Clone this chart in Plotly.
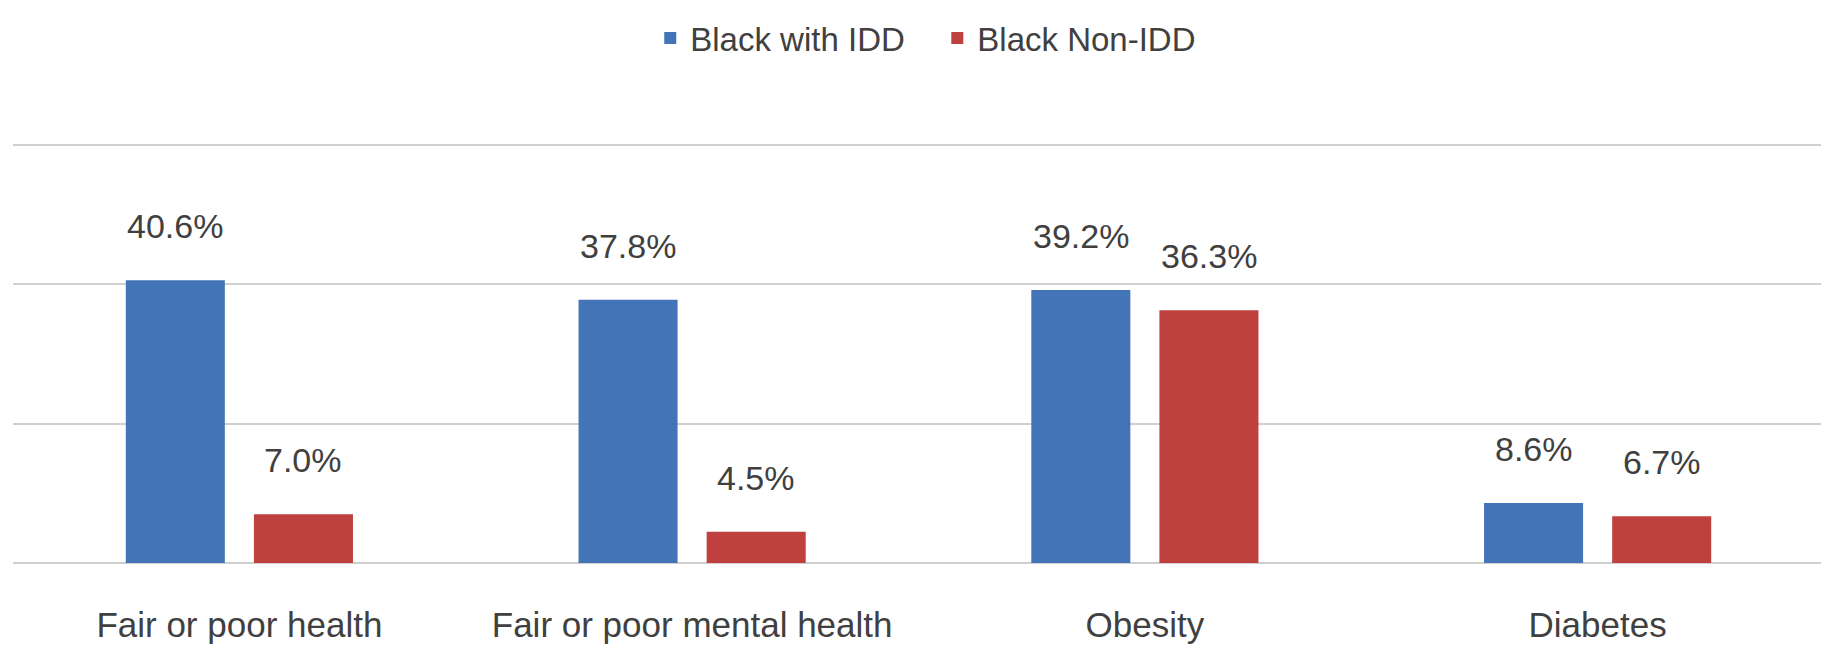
import plotly.graph_objects as go

categories = ["Fair or poor health", "Fair or poor mental health", "Obesity", "Diabetes"]
idd_values = [40.6, 37.8, 39.2, 8.6]
non_idd_values = [7.0, 4.5, 36.3, 6.7]
series_names = ["Black with IDD", "Black Non-IDD"]

BLUE = "#4374B7"
RED = "#BE413F"
TEXT = "#404040"
GRID = "#CFCFCF"
FONT = "Liberation Sans, Arial, sans-serif"
NBSP = "\u00a0"

fig = go.Figure()
fig.add_trace(go.Bar(x=categories, y=idd_values, name=series_names[0] + NBSP * 3,
                     marker=dict(color=BLUE, line=dict(width=0))))
fig.add_trace(go.Bar(x=categories, y=non_idd_values, name=series_names[1],
                     marker=dict(color=RED, line=dict(width=0))))

annotations = []
for vals, shift in ((idd_values, -64), (non_idd_values, 64)):
    for c, v in zip(categories, vals):
        annotations.append(dict(x=c, y=v, xref="x", yref="y", text=f"{v:.1f}%",
                                showarrow=False, xshift=shift, yshift=33,
                                yanchor="bottom",
                                font=dict(family=FONT, size=34, color=TEXT)))

fig.update_layout(
    width=1821, height=642,
    margin=dict(l=5, r=5, t=135, b=87),
    paper_bgcolor="white", plot_bgcolor="white",
    barmode="group", bargap=0.434, bargroupgap=0.227,
    font=dict(family=FONT, size=35, color=TEXT),
    legend=dict(orientation="h", x=0.504, xanchor="center", xref="paper",
                y=0.953, yanchor="middle", yref="container",
                font=dict(family=FONT, size=33, color=TEXT),
                itemwidth=30, traceorder="normal"),
    annotations=annotations,
    showlegend=True,
)
fig.update_xaxes(showgrid=False, showline=False, zeroline=False, ticks="",
                 tickfont=dict(family=FONT, size=35, color=TEXT),
                 ticklabelstandoff=38, automargin=False)
fig.update_yaxes(range=[0, 60.3], tickvals=[0, 20, 40, 60], showgrid=True, gridcolor=GRID,
                 gridwidth=2, zeroline=True, zerolinecolor=GRID, zerolinewidth=2,
                 showticklabels=False, showline=False, ticks="", automargin=False)

fig.write_html("out.html")
